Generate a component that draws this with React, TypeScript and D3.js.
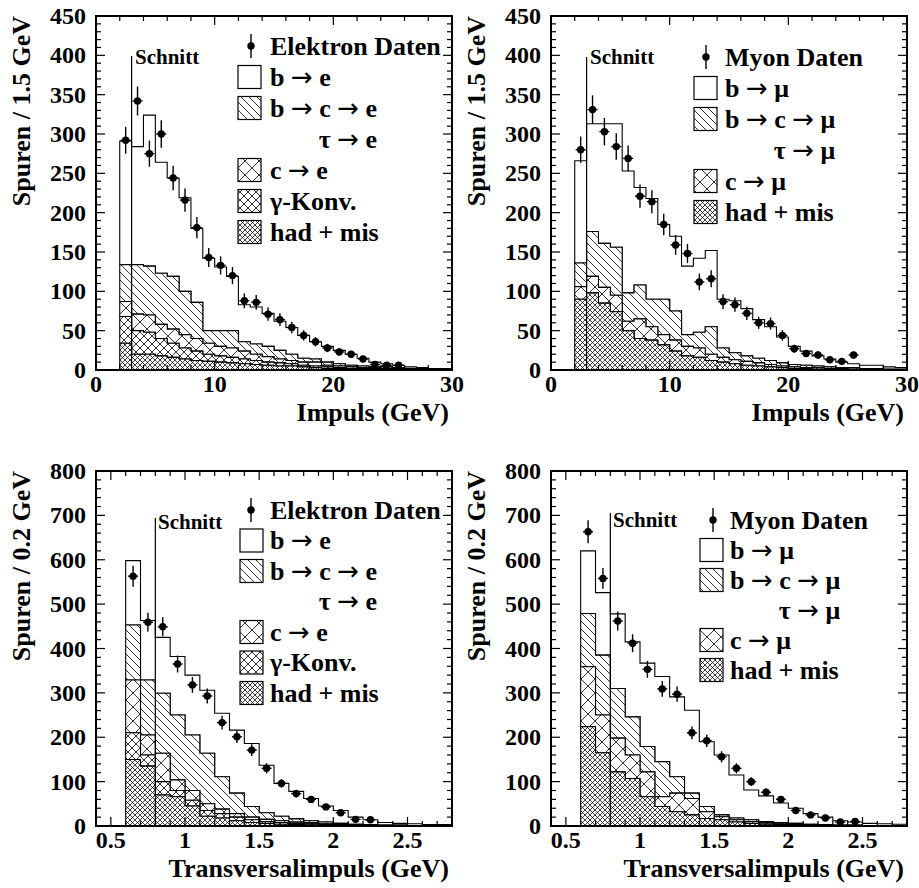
import React, { useEffect, useRef } from "react";
import * as d3 from "d3";

const W = 919;
const H = 888;

// ---------- bins (lower edges) ----------
const pBins = [2,3,4,5,6,7,8,9,10,11,12,13,14,15,16,17,18,19,20,21,22,23,24,25,26,27,28,29];
const pBinWidth = 1;
const ptBins = [0.6,0.7,0.8,0.9,1.0,1.1,1.2,1.3,1.4,1.5,1.6,1.7,1.8,1.9,2.0,2.1,2.2,2.3,2.4,2.5,2.6,2.7];
const ptBinWidth = 0.1;

// ---------- Elektron, Impuls ----------
const elP_had = [34,20,20,18,16,14,12,11,10,9,8,7,6,5,5,4,3,2,2,1,1,1,1,0,0,0,0,0];
const elP_gam = [34,30,28,22,18,14,12,9,8,7,6,5,4,4,3,2,2,2,1,1,1,1,0,1,1,0,0,0];
const elP_c = [19,21,22,18,18,17,16,14,12,12,10,8,7,5,4,4,5,2,2,2,1,1,1,1,0,1,1,0];
const elP_bc = [47,63,62,65,67,55,46,16,20,22,12,13,13,11,8,5,4,4,3,2,2,1,2,1,1,1,0,1];
const elP_b = [157,150,192,141,125,119,94,92,81,69,47,47,42,37,34,29,22,20,17,14,10,6,4,3,2,1,1,1];
const elP_data = [292,342,275,300,244,216,181,143,133,120,88,86,71,64,54,44,36,28,23,20,14,7,6,6,null,null,null,null];

// ---------- Myon, Impuls ----------
const muP_had = [90,98,85,74,50,40,38,32,24,18,16,12,10,8,6,5,4,3,2,2,1,1,1,1,0,0,0,0];
const muP_c = [16,21,20,21,12,25,17,13,14,12,12,8,6,5,5,4,3,2,2,1,2,1,1,0,1,1,1,0];
const muP_bc = [30,57,56,61,36,43,35,45,37,15,20,35,12,9,7,6,5,4,3,3,2,2,1,2,1,1,0,1];
const muP_b = [130,137,152,157,155,124,128,95,95,87,94,97,62,66,60,49,43,33,23,18,13,10,7,5,4,4,3,2];
const muP_data = [280,331,303,284,269,221,214,185,159,148,112,116,87,83,72,60,59,44,27,21,19,13,11,19,null,null,null,null];

// ---------- Elektron, Transversalimpuls ----------
const elT_had = [150,135,70,66,45,22,18,12,8,6,4,3,2,2,1,1,0,0,0,0,0,0];
const elT_gam = [60,25,30,14,13,13,10,8,6,4,4,3,3,1,1,1,1,1,1,0,0,0];
const elT_c = [119,45,64,24,22,15,10,8,6,5,4,3,2,2,2,1,1,0,0,1,0,0];
const elT_bc = [124,124,135,146,125,114,73,46,24,15,10,7,5,4,2,1,1,1,1,0,1,1];
const elT_b = [145,134,126,132,135,142,143,142,142,107,74,62,50,36,29,16,11,6,4,4,2,2];
const elT_data = [563,459,449,365,318,293,233,201,171,130,96,73,60,43,30,15,14,null,null,null,null,null];

// ---------- Myon, Transversalimpuls ----------
const muT_had = [224,165,122,107,66,44,32,25,17,14,9,6,4,3,2,1,1,0,0,0,0,0];
const muT_c = [135,85,76,53,56,22,42,37,15,7,5,4,3,2,2,2,1,1,1,1,0,0];
const muT_bc = [120,135,112,86,57,79,37,12,12,4,4,4,3,3,2,1,1,1,1,0,1,1];
const muT_b = [141,141,168,169,188,192,180,187,146,135,97,67,58,44,34,24,17,10,7,5,4,3];
const muT_data = [663,558,462,412,353,309,297,210,192,156,130,100,76,60,35,25,18,9,10,null,null,null];

// ---------- axis texts ----------
const pTickLabels = ["0", "10", "20", "30"];
const pTickValues = [0, 10, 20, 30];
const ptTickLabels = ["0.5", "1", "1.5", "2", "2.5"];
const ptTickValues = [0.5, 1, 1.5, 2, 2.5];
const yTopTicks = [0, 50, 100, 150, 200, 250, 300, 350, 400, 450];
const yBotTicks = [0, 100, 200, 300, 400, 500, 600, 700, 800];

const elLegend = ["Elektron Daten", "b \u2192 e", "b \u2192 c \u2192 e", "\u03c4 \u2192 e", "c \u2192 e", "\u03b3-Konv.", "had + mis"];
const elLegendKeys = ["data", "b", "bc", "tau", "c", "gam", "had"];
const muLegend = ["Myon Daten", "b \u2192 \u03bc", "b \u2192 c \u2192 \u03bc", "\u03c4 \u2192 \u03bc", "c \u2192 \u03bc", "had + mis"];
const muLegendKeys = ["data", "b", "bc", "tau", "c", "had"];

const SERIF = '"Liberation Serif"';
const ARROWFONT = '"DejaVu Sans"';
const LEGEND_SIZE = 26;

const fillOf: Record<string, string> = {
  b: "white",
  bc: "url(#pBC)",
  c: "url(#pC)",
  gam: "url(#pG)",
  had: "url(#pH)",
};

type Panel = {
  fx: number; fy: number; fw: number; fh: number;
  xDomain: [number, number]; yDomain: [number, number];
  bins: number[]; bw: number;
  keys: string[]; values: Record<string, number[]>;
  data: (number | null)[];
  xMinorStep: number; xMajor: number[]; xLabels: string[];
  yMinorStep: number; yMajor: number[];
  xTitle: string; yTitle: string;
  cut: number; cutTop: number; cutTextX: number; cutBase: number;
  legend: string[]; legendKeys: string[];
  lgMarkX: number; lgBoxX: number; lgTextX: number; lgY0: number; lgDy: number;
};

function bold(sel: any, size: number) {
  return sel.style("font-family", SERIF).style("font-weight", "bold").style("font-size", `${size}px`);
}

export default function App() {
  const ref = useRef<SVGSVGElement>(null);

  useEffect(() => {
    const svg = d3.select(ref.current);
    svg.selectAll("*").remove();
    const defs = svg.append("defs");
    const mkPat = (id: string, size: number, d: string, sw: number) => {
      const p = defs.append("pattern").attr("id", id).attr("patternUnits", "userSpaceOnUse")
        .attr("width", size).attr("height", size);
      p.append("rect").attr("width", size).attr("height", size).attr("fill", "white");
      p.append("path").attr("d", d).attr("stroke", "black").attr("stroke-width", sw).attr("fill", "none");
    };
    mkPat("pBC", 8, "M-1,-1L9,9M-5,3L5,13M3,-5L13,5", 0.8);
    mkPat("pC", 14, "M-1,-1L15,15M15,-1L-1,15", 0.8);
    mkPat("pG", 8, "M-1,-1L9,9M9,-1L-1,9", 0.8);
    mkPat("pH", 5, "M-1,-1L6,6M6,-1L-1,6", 0.75);

    const panels: Panel[] = [
      {
        fx: 96, fy: 16, fw: 356, fh: 354, xDomain: [0, 30], yDomain: [0, 450],
        bins: pBins, bw: pBinWidth, keys: ["had", "gam", "c", "bc", "b"],
        values: { had: elP_had, gam: elP_gam, c: elP_c, bc: elP_bc, b: elP_b }, data: elP_data,
        xMinorStep: 2, xMajor: pTickValues, xLabels: pTickLabels, yMinorStep: 10, yMajor: yTopTicks,
        xTitle: "Impuls (GeV)", yTitle: "Spuren / 1.5 GeV",
        cut: 3, cutTop: 56, cutTextX: 135, cutBase: 64,
        legend: elLegend, legendKeys: elLegendKeys,
        lgMarkX: 251, lgBoxX: 238, lgTextX: 270, lgY0: 46, lgDy: 31,
      },
      {
        fx: 551, fy: 16, fw: 356, fh: 354, xDomain: [0, 30], yDomain: [0, 450],
        bins: pBins, bw: pBinWidth, keys: ["had", "c", "bc", "b"],
        values: { had: muP_had, c: muP_c, bc: muP_bc, b: muP_b }, data: muP_data,
        xMinorStep: 2, xMajor: pTickValues, xLabels: pTickLabels, yMinorStep: 10, yMajor: yTopTicks,
        xTitle: "Impuls (GeV)", yTitle: "Spuren / 1.5 GeV",
        cut: 3, cutTop: 57, cutTextX: 590, cutBase: 64,
        legend: muLegend, legendKeys: muLegendKeys,
        lgMarkX: 706, lgBoxX: 694, lgTextX: 725, lgY0: 57, lgDy: 31,
      },
      {
        fx: 96, fy: 471, fw: 356, fh: 355, xDomain: [0.4, 2.8], yDomain: [0, 800],
        bins: ptBins, bw: ptBinWidth, keys: ["had", "gam", "c", "bc", "b"],
        values: { had: elT_had, gam: elT_gam, c: elT_c, bc: elT_bc, b: elT_b }, data: elT_data,
        xMinorStep: 0.1, xMajor: ptTickValues, xLabels: ptTickLabels, yMinorStep: 20, yMajor: yBotTicks,
        xTitle: "Transversalimpuls (GeV)", yTitle: "Spuren / 0.2 GeV",
        cut: 0.8, cutTop: 518, cutTextX: 158, cutBase: 529,
        legend: elLegend, legendKeys: elLegendKeys,
        lgMarkX: 251, lgBoxX: 240, lgTextX: 270, lgY0: 510, lgDy: 30.5,
      },
      {
        fx: 551, fy: 471, fw: 356, fh: 355, xDomain: [0.4, 2.8], yDomain: [0, 800],
        bins: ptBins, bw: ptBinWidth, keys: ["had", "c", "bc", "b"],
        values: { had: muT_had, c: muT_c, bc: muT_bc, b: muT_b }, data: muT_data,
        xMinorStep: 0.1, xMajor: ptTickValues, xLabels: ptTickLabels, yMinorStep: 20, yMajor: yBotTicks,
        xTitle: "Transversalimpuls (GeV)", yTitle: "Spuren / 0.2 GeV",
        cut: 0.8, cutTop: 513, cutTextX: 613, cutBase: 527,
        legend: muLegend, legendKeys: muLegendKeys,
        lgMarkX: 713, lgBoxX: 700, lgTextX: 730, lgY0: 520, lgDy: 30,
      },
    ];

    panels.forEach((P) => {
      const g = svg.append("g");
      const xs = d3.scaleLinear().domain(P.xDomain).range([P.fx, P.fx + P.fw]);
      const ys = d3.scaleLinear().domain(P.yDomain).range([P.fy + P.fh, P.fy]);

      const rows = P.bins.map((b, i) => {
        const r: any = { x: b };
        P.keys.forEach((k) => (r[k] = P.values[k][i]));
        return r;
      });
      const stacked = d3.stack<any>().keys(P.keys)(rows);
      const area = d3.area<any>()
        .x((d) => xs(d.x))
        .y0((d) => ys(d.y0))
        .y1((d) => ys(d.y1))
        .curve(d3.curveStepAfter);
      stacked.slice().reverse().forEach((s) => {
        const pts = s.map((d: any) => ({ x: d.data.x, y0: d[0], y1: d[1] }));
        const last = pts[pts.length - 1];
        pts.push({ x: last.x + P.bw, y0: last.y0, y1: last.y1 });
        g.append("path").attr("d", area(pts) as string)
          .attr("fill", fillOf[s.key]).attr("stroke", "black").attr("stroke-width", 1.1);
      });

      g.append("line").attr("x1", xs(P.cut)).attr("x2", xs(P.cut))
        .attr("y1", P.cutTop).attr("y2", P.fy + P.fh)
        .attr("stroke", "black").attr("stroke-width", 1.2);
      bold(g.append("text").attr("x", P.cutTextX).attr("y", P.cutBase), 21).text("Schnitt");

      P.data.forEach((v, i) => {
        if (v == null) return;
        const cx = xs(P.bins[i] + P.bw / 2);
        const err = Math.sqrt(v);
        g.append("line").attr("x1", cx).attr("x2", cx).attr("y1", ys(v - err)).attr("y2", ys(v + err))
          .attr("stroke", "black").attr("stroke-width", 1.4);
        g.append("line").attr("x1", cx - 5).attr("x2", cx + 5).attr("y1", ys(v)).attr("y2", ys(v))
          .attr("stroke", "black").attr("stroke-width", 1.4);
        g.append("circle").attr("cx", cx).attr("cy", ys(v)).attr("r", 3.7).attr("fill", "black");
      });

      g.append("rect").attr("x", P.fx).attr("y", P.fy).attr("width", P.fw).attr("height", P.fh)
        .attr("fill", "none").attr("stroke", "black").attr("stroke-width", 2);

      const isMajor = (v: number, majors: number[]) => majors.some((m) => Math.abs(m - v) < 1e-6);
      const tick = (x1: number, y1: number, x2: number, y2: number) =>
        g.append("line").attr("x1", x1).attr("y1", y1).attr("x2", x2).attr("y2", y2)
          .attr("stroke", "black").attr("stroke-width", 1.2);

      const nx = Math.round((P.xDomain[1] - P.xDomain[0]) / P.xMinorStep);
      for (let i = 1; i < nx; i++) {
        const v = P.xDomain[0] + i * P.xMinorStep;
        const X = xs(v);
        const len = isMajor(v, P.xMajor) ? 9 : 5;
        tick(X, P.fy + P.fh, X, P.fy + P.fh - len);
        tick(X, P.fy, X, P.fy + len);
      }
      const ny = Math.round((P.yDomain[1] - P.yDomain[0]) / P.yMinorStep);
      for (let i = 1; i < ny; i++) {
        const v = P.yDomain[0] + i * P.yMinorStep;
        const Y = ys(v);
        const len = isMajor(v, P.yMajor) ? 9 : 5;
        tick(P.fx, Y, P.fx + len, Y);
        tick(P.fx + P.fw, Y, P.fx + P.fw - len, Y);
      }

      P.xMajor.forEach((v, i) => {
        bold(g.append("text").attr("x", xs(v)).attr("y", P.fy + P.fh + 22).attr("text-anchor", "middle"), 24)
          .text(P.xLabels[i]);
      });
      P.yMajor.forEach((v) => {
        bold(g.append("text").attr("x", P.fx - 10).attr("y", ys(v) + 8).attr("text-anchor", "end"), 24)
          .text(String(v));
      });

      bold(g.append("text").attr("x", P.fx + P.fw - 3).attr("y", P.fy + P.fh + 51).attr("text-anchor", "end"), 26)
        .text(P.xTitle);
      bold(g.append("text").attr("transform", `translate(${P.fx - 66},${P.fy}) rotate(-90)`).attr("text-anchor", "end"), 26)
        .text(P.yTitle);

      let bcEnd = 0;
      P.legendKeys.forEach((k, i) => {
        const cy = P.lgY0 + i * P.lgDy;
        if (k === "data") {
          g.append("line").attr("x1", P.lgMarkX).attr("x2", P.lgMarkX).attr("y1", cy - 12).attr("y2", cy + 12)
            .attr("stroke", "black").attr("stroke-width", 1.4);
          g.append("circle").attr("cx", P.lgMarkX).attr("cy", cy).attr("r", 3.7).attr("fill", "black");
        } else if (k !== "tau") {
          g.append("rect").attr("x", P.lgBoxX).attr("y", cy - 11.5).attr("width", 23).attr("height", 23)
            .attr("fill", fillOf[k]).attr("stroke", "black").attr("stroke-width", 1.2);
        }
        const t = bold(g.append("text").attr("y", cy + 8.5), LEGEND_SIZE);
        const parts = P.legend[i].split("\u2192");
        parts.forEach((part, j) => {
          if (j > 0) {
            t.append("tspan").style("font-family", ARROWFONT).style("font-weight", "normal").text("\u2192");
          }
          t.append("tspan").text(part);
        });
        if (k === "tau") {
          t.attr("x", bcEnd).attr("text-anchor", "end");
        } else {
          t.attr("x", P.lgTextX);
        }
        if (k === "bc") {
          const node = t.node() as SVGTextElement;
          bcEnd = P.lgTextX + node.getComputedTextLength();
        }
      });
    });
  }, []);

  return (
    <svg
      ref={ref}
      width={W}
      height={H}
      style={{ position: "absolute", left: 0, top: 0, background: "white", fontFamily: '"Liberation Serif"' }}
    />
  );
}
